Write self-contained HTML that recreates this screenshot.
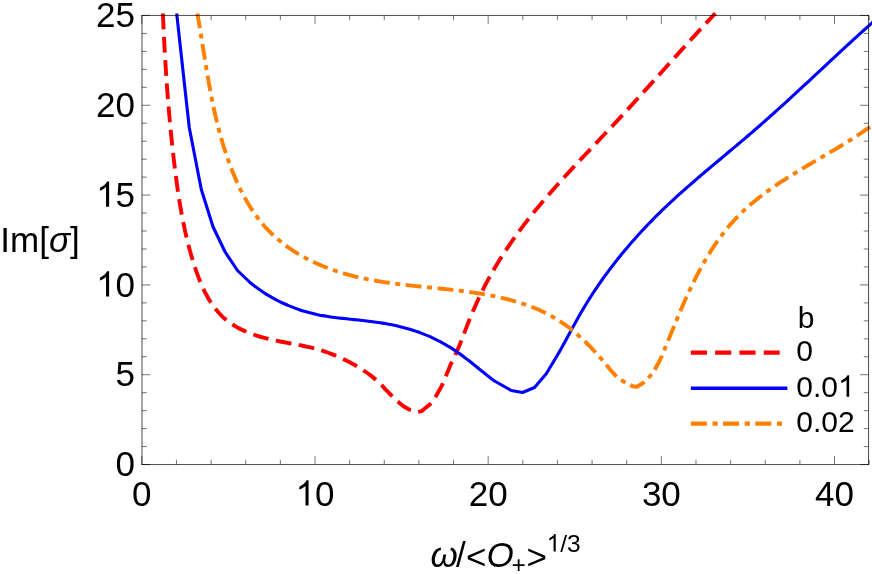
<!DOCTYPE html>
<html><head><meta charset="utf-8"><title>Im[σ] plot</title>
<style>html,body{margin:0;padding:0;background:#fff;}body{width:872px;height:574px;overflow:hidden;font-family:"Liberation Sans",sans-serif;}svg{display:block;position:absolute;left:0;top:0;will-change:transform;}</style>
</head><body>
<svg width="872" height="574" viewBox="0 0 872 574">
<rect width="872" height="574" fill="#fff"/>
<path d="M162.90,13.50 C162.93,14.17 163.01,16.17 163.07,17.51 C163.13,18.85 163.19,20.19 163.25,21.52 C163.31,22.86 163.37,24.20 163.43,25.54 C163.49,26.87 163.55,28.21 163.62,29.55 C163.68,30.89 163.74,32.22 163.81,33.56 C163.87,34.90 163.94,36.24 164.01,37.57 C164.08,38.91 164.14,40.25 164.21,41.59 C164.28,42.92 164.35,44.26 164.43,45.60 C164.50,46.93 164.57,48.27 164.64,49.61 C164.72,50.94 164.79,52.28 164.87,53.62 C164.95,54.96 165.02,56.29 165.10,57.63 C165.18,58.96 165.26,60.30 165.34,61.64 C165.42,62.97 165.50,64.31 165.59,65.65 C165.67,66.98 165.75,68.32 165.84,69.65 C165.93,70.99 166.01,72.33 166.10,73.66 C166.19,75.00 166.28,76.33 166.37,77.67 C166.46,79.00 166.55,80.34 166.65,81.67 C166.74,83.01 166.83,84.34 166.93,85.68 C167.03,87.01 167.12,88.35 167.22,89.68 C167.32,91.02 167.42,92.35 167.52,93.68 C167.63,95.02 167.73,96.35 167.83,97.69 C167.94,99.02 168.04,100.35 168.15,101.69 C168.26,103.02 168.37,104.35 168.48,105.68 C168.59,107.02 168.70,108.35 168.81,109.68 C168.92,111.01 169.04,112.35 169.16,113.68 C169.27,115.01 169.39,116.34 169.51,117.67 C169.63,119.00 169.75,120.33 169.87,121.66 C169.99,123.00 170.12,124.33 170.24,125.66 C170.37,126.99 170.49,128.32 170.62,129.65 C170.75,130.97 170.88,132.30 171.01,133.63 C171.15,134.96 171.28,136.29 171.41,137.62 C171.55,138.95 171.69,140.27 171.83,141.60 C171.96,142.93 172.10,144.26 172.25,145.58 C172.39,146.91 172.53,148.24 172.68,149.56 C172.82,150.89 172.97,152.22 173.12,153.54 C173.27,154.87 173.42,156.19 173.57,157.52 C173.72,158.84 173.88,160.17 174.04,161.49 C174.19,162.81 174.35,164.14 174.51,165.46 C174.67,166.79 174.83,168.11 174.99,169.43 C175.16,170.75 175.32,172.08 175.49,173.40 C175.66,174.72 175.83,176.04 176.00,177.36 C176.17,178.68 176.35,180.00 176.53,181.32 C176.70,182.64 176.88,183.96 177.07,185.28 C177.25,186.60 177.44,187.92 177.63,189.24 C177.82,190.55 178.01,191.87 178.21,193.19 C178.40,194.51 178.60,195.82 178.81,197.14 C179.01,198.46 179.22,199.77 179.43,201.09 C179.64,202.40 179.86,203.72 180.08,205.03 C180.30,206.35 180.52,207.66 180.75,208.97 C180.98,210.29 181.22,211.60 181.45,212.91 C181.69,214.22 181.94,215.54 182.18,216.85 C182.43,218.16 182.69,219.47 182.95,220.78 C183.21,222.09 183.47,223.40 183.74,224.71 C184.01,226.02 184.29,227.32 184.57,228.63 C184.85,229.94 185.14,231.25 185.43,232.55 C185.73,233.86 186.03,235.17 186.33,236.47 C186.64,237.78 186.95,239.08 187.27,240.39 C187.59,241.69 187.92,243.00 188.25,244.30 C188.58,245.60 188.93,246.90 189.27,248.21 C189.62,249.51 189.98,250.81 190.34,252.11 C190.70,253.41 191.07,254.71 191.45,256.01 C191.83,257.31 192.21,258.61 192.61,259.91 C193.00,261.20 193.40,262.50 193.81,263.80 C194.22,265.09 194.64,266.39 195.07,267.68 C195.50,268.98 195.93,270.27 196.38,271.55 C196.83,272.84 197.29,274.12 197.76,275.40 C198.23,276.67 198.72,277.95 199.21,279.21 C199.71,280.47 200.22,281.73 200.74,282.98 C201.27,284.22 201.80,285.46 202.36,286.69 C202.91,287.91 203.48,289.13 204.07,290.34 C204.65,291.54 205.26,292.73 205.88,293.91 C206.50,295.09 207.13,296.26 207.79,297.40 C208.45,298.55 209.12,299.69 209.82,300.80 C210.52,301.92 211.23,303.02 211.97,304.10 C212.71,305.18 213.47,306.25 214.25,307.29 C215.03,308.33 215.83,309.35 216.66,310.35 C217.49,311.35 218.34,312.33 219.22,313.29 C220.09,314.24 220.99,315.17 221.92,316.08 C222.85,316.98 223.80,317.87 224.78,318.72 C225.76,319.57 226.77,320.40 227.80,321.20 C228.84,322.00 229.90,322.77 230.99,323.52 C232.07,324.26 233.19,324.98 234.32,325.67 C235.46,326.37 236.62,327.03 237.79,327.68 C238.97,328.32 240.17,328.93 241.38,329.53 C242.60,330.12 243.83,330.69 245.07,331.24 C246.32,331.79 247.58,332.32 248.85,332.82 C250.12,333.33 251.40,333.81 252.69,334.27 C253.98,334.74 255.28,335.18 256.59,335.60 C257.89,336.03 259.20,336.43 260.52,336.82 C261.83,337.21 263.15,337.58 264.47,337.93 C265.79,338.28 267.11,338.62 268.42,338.94 C269.74,339.26 271.06,339.57 272.38,339.86 C273.70,340.16 275.02,340.44 276.33,340.71 C277.65,340.99 278.97,341.25 280.28,341.51 C281.60,341.77 282.92,342.02 284.23,342.27 C285.54,342.51 286.86,342.75 288.17,343.00 C289.48,343.24 290.79,343.48 292.10,343.72 C293.40,343.96 294.71,344.20 296.02,344.44 C297.32,344.69 298.62,344.94 299.92,345.19 C301.22,345.45 302.52,345.71 303.82,345.98 C305.11,346.25 306.40,346.53 307.69,346.82 C308.98,347.11 310.27,347.41 311.56,347.72 C312.84,348.04 314.12,348.37 315.40,348.71 C316.68,349.06 317.95,349.42 319.22,349.80 C320.49,350.17 321.76,350.57 323.03,350.98 C324.29,351.39 325.55,351.81 326.80,352.25 C328.06,352.69 329.31,353.15 330.56,353.62 C331.80,354.09 333.05,354.58 334.28,355.08 C335.52,355.59 336.75,356.10 337.98,356.64 C339.21,357.17 340.43,357.72 341.65,358.28 C342.87,358.84 344.08,359.42 345.29,360.02 C346.49,360.61 347.70,361.22 348.89,361.84 C350.09,362.46 351.28,363.10 352.46,363.75 C353.64,364.40 354.82,365.06 355.99,365.74 C357.16,366.42 358.33,367.12 359.48,367.83 C360.64,368.54 361.79,369.26 362.92,370.00 C364.06,370.74 365.18,371.50 366.29,372.27 C367.40,373.05 368.49,373.84 369.57,374.64 C370.64,375.45 371.70,376.28 372.74,377.13 C373.78,377.97 374.80,378.84 375.79,379.72 C376.79,380.61 377.76,381.52 378.72,382.43 C379.68,383.35 380.62,384.29 381.56,385.23 C382.49,386.17 383.41,387.12 384.33,388.08 C385.25,389.03 386.16,390.00 387.08,390.96 C387.99,391.92 388.90,392.88 389.83,393.84 C390.75,394.80 391.32,395.42 392.61,396.70 C393.91,397.97 395.85,399.95 397.60,401.50 L403.10,406.00 L409.50,409.70 L417.80,411.90 L421.50,411.20 L429.70,404.60 L436.10,396.00 L441.70,385.90 L447.20,373.00 C448.60,369.66 449.35,367.66 450.10,365.86 C450.86,364.06 451.18,363.40 451.74,362.18 C452.30,360.96 452.89,359.75 453.47,358.54 C454.05,357.32 454.65,356.12 455.23,354.90 C455.80,353.69 456.38,352.48 456.93,351.26 C457.48,350.05 458.01,348.83 458.53,347.61 C459.05,346.38 459.55,345.16 460.05,343.93 C460.55,342.70 461.03,341.47 461.51,340.24 C461.99,339.01 462.46,337.78 462.93,336.54 C463.40,335.31 463.87,334.07 464.34,332.83 C464.81,331.59 465.28,330.35 465.75,329.11 C466.23,327.87 466.70,326.63 467.19,325.39 C467.67,324.15 468.16,322.91 468.66,321.67 C469.15,320.43 469.66,319.19 470.16,317.95 C470.67,316.71 471.18,315.47 471.70,314.24 C472.22,313.00 472.75,311.76 473.28,310.53 C473.81,309.29 474.34,308.06 474.89,306.83 C475.43,305.59 475.98,304.36 476.53,303.14 C477.09,301.91 477.65,300.68 478.22,299.46 C478.79,298.24 479.36,297.02 479.94,295.80 C480.52,294.59 481.11,293.37 481.70,292.16 C482.29,290.95 482.89,289.75 483.50,288.55 C484.10,287.34 484.71,286.15 485.33,284.95 C485.95,283.76 486.57,282.57 487.21,281.39 C487.84,280.20 488.48,279.02 489.12,277.85 C489.76,276.67 490.41,275.50 491.07,274.33 C491.73,273.16 492.39,272.00 493.06,270.84 C493.73,269.68 494.40,268.52 495.08,267.37 C495.76,266.22 496.45,265.08 497.14,263.93 C497.83,262.79 498.53,261.65 499.23,260.51 C499.94,259.38 500.65,258.25 501.36,257.12 C502.08,255.99 502.80,254.87 503.52,253.75 C504.25,252.63 504.98,251.51 505.71,250.40 C506.45,249.29 507.19,248.18 507.94,247.08 C508.68,245.97 509.43,244.87 510.19,243.77 C510.95,242.68 511.71,241.58 512.47,240.49 C513.24,239.40 514.01,238.31 514.79,237.23 C515.56,236.15 516.34,235.07 517.13,233.99 C517.91,232.92 518.70,231.84 519.50,230.77 C520.29,229.70 521.09,228.64 521.89,227.57 C522.69,226.51 523.50,225.45 524.31,224.39 C525.12,223.34 525.94,222.28 526.76,221.23 C527.58,220.18 528.40,219.13 529.23,218.09 C530.05,217.04 530.88,216.00 531.72,214.96 C532.55,213.92 533.39,212.88 534.23,211.85 C535.07,210.82 535.92,209.78 536.77,208.75 C537.61,207.73 538.47,206.70 539.32,205.67 C540.17,204.65 541.03,203.63 541.89,202.61 C542.75,201.59 543.62,200.57 544.49,199.56 C545.35,198.54 546.22,197.53 547.10,196.52 C547.97,195.51 548.84,194.50 549.72,193.49 C550.60,192.49 551.48,191.48 552.36,190.48 C553.25,189.47 554.13,188.47 555.02,187.47 C555.91,186.47 556.80,185.48 557.69,184.48 C558.58,183.48 559.47,182.49 560.37,181.50 C561.27,180.50 562.16,179.51 563.06,178.52 C563.96,177.53 564.87,176.54 565.77,175.55 C566.67,174.57 567.58,173.58 568.49,172.60 C569.39,171.61 570.30,170.63 571.21,169.64 C572.12,168.66 573.03,167.68 573.94,166.70 C574.85,165.72 575.77,164.74 576.68,163.76 C577.60,162.78 578.51,161.80 579.43,160.82 C580.34,159.85 581.26,158.87 582.18,157.89 C583.10,156.92 584.02,155.94 584.93,154.97 C585.85,153.99 586.77,153.02 587.69,152.04 C588.61,151.07 589.54,150.09 590.46,149.12 C591.38,148.15 592.30,147.17 593.22,146.20 C594.14,145.23 595.06,144.25 595.99,143.28 C596.91,142.31 597.83,141.34 598.75,140.36 C599.67,139.39 600.59,138.42 601.51,137.44 C602.44,136.47 603.36,135.50 604.28,134.52 C605.20,133.55 606.12,132.58 607.04,131.60 C607.95,130.63 608.87,129.65 609.79,128.68 C610.71,127.70 611.63,126.73 612.54,125.75 C613.46,124.77 614.37,123.80 615.29,122.82 C616.20,121.84 617.11,120.86 618.03,119.88 C618.94,118.90 619.85,117.92 620.76,116.94 C621.67,115.96 622.58,114.98 623.48,114.00 C624.39,113.02 625.30,112.03 626.20,111.05 C627.11,110.07 628.01,109.08 628.92,108.10 C629.82,107.11 630.72,106.13 631.63,105.14 C632.53,104.16 633.43,103.17 634.33,102.18 C635.23,101.20 636.13,100.21 637.03,99.22 C637.93,98.23 638.83,97.24 639.73,96.26 C640.63,95.27 641.52,94.28 642.42,93.29 C643.32,92.30 644.21,91.31 645.11,90.32 C646.01,89.33 646.90,88.34 647.80,87.35 C648.69,86.36 649.59,85.37 650.48,84.38 C651.38,83.38 652.27,82.39 653.17,81.40 C654.06,80.41 654.95,79.42 655.85,78.43 C656.74,77.43 657.64,76.44 658.53,75.45 C659.42,74.46 660.32,73.47 661.21,72.47 C662.10,71.48 663.00,70.49 663.89,69.50 C664.79,68.51 665.68,67.51 666.57,66.52 C667.47,65.53 668.36,64.54 669.26,63.55 C670.15,62.56 671.04,61.56 671.94,60.57 C672.83,59.58 673.73,58.59 674.62,57.60 C675.52,56.61 676.42,55.62 677.31,54.63 C678.21,53.63 679.11,52.64 680.00,51.65 C680.90,50.66 681.80,49.67 682.70,48.68 C683.59,47.70 684.49,46.71 685.39,45.72 C686.29,44.73 687.19,43.74 688.09,42.75 C688.99,41.76 689.89,40.78 690.80,39.79 C691.70,38.80 692.60,37.82 693.51,36.83 C694.41,35.85 695.31,34.86 696.22,33.88 C697.13,32.89 698.03,31.91 698.94,30.92 C699.85,29.94 700.76,28.96 701.67,27.97 C702.58,26.99 703.49,26.01 704.40,25.03 C705.31,24.05 706.22,23.07 707.14,22.09 C708.05,21.11 708.97,20.13 709.88,19.16 C710.80,18.18 711.72,17.20 712.64,16.22 C713.56,15.25 714.94,13.79 715.40,13.30" fill="none" stroke="#ff0000" stroke-width="3.9" stroke-dasharray="15.8 7.5" stroke-linejoin="round"/>
<path d="M176.70,13.50 L180.70,50.00 L186.20,100.00 L189.25,127.50 L201.25,189.25 L213.00,226.75 L225.00,251.75 L237.50,270.50 L250.00,282.50 C254.29,286.13 260.48,290.30 263.25,292.28 C266.02,294.27 265.50,293.72 266.64,294.41 C267.77,295.11 268.92,295.79 270.07,296.45 C271.22,297.12 272.38,297.77 273.55,298.41 C274.72,299.04 275.90,299.67 277.09,300.28 C278.28,300.89 279.48,301.48 280.69,302.07 C281.89,302.65 283.11,303.22 284.33,303.77 C285.56,304.32 286.79,304.86 288.03,305.38 C289.27,305.91 290.51,306.42 291.76,306.91 C293.02,307.40 294.28,307.88 295.54,308.34 C296.80,308.81 298.08,309.25 299.35,309.68 C300.63,310.11 301.91,310.53 303.19,310.93 C304.48,311.33 305.77,311.71 307.06,312.07 C308.36,312.44 309.66,312.79 310.96,313.12 C312.26,313.45 313.56,313.77 314.87,314.06 C316.17,314.36 317.48,314.64 318.80,314.90 C320.11,315.17 321.42,315.42 322.74,315.65 C324.05,315.89 325.37,316.11 326.69,316.32 C328.01,316.53 329.33,316.73 330.65,316.92 C331.98,317.10 333.30,317.28 334.63,317.45 C335.95,317.62 337.28,317.78 338.61,317.94 C339.93,318.10 341.26,318.24 342.59,318.39 C343.92,318.54 345.25,318.68 346.58,318.82 C347.92,318.96 349.25,319.09 350.58,319.23 C351.91,319.37 353.24,319.50 354.57,319.64 C355.91,319.78 357.24,319.91 358.57,320.06 C359.90,320.20 361.23,320.34 362.56,320.49 C363.89,320.64 365.22,320.79 366.55,320.95 C367.88,321.11 369.21,321.27 370.54,321.44 C371.87,321.61 373.20,321.79 374.52,321.97 C375.85,322.15 377.17,322.34 378.49,322.54 C379.82,322.73 381.14,322.94 382.46,323.15 C383.78,323.36 385.10,323.59 386.41,323.82 C387.73,324.05 389.04,324.29 390.35,324.54 C391.66,324.80 392.97,325.06 394.28,325.33 C395.59,325.61 396.89,325.89 398.19,326.19 C399.49,326.49 400.79,326.80 402.09,327.13 C403.38,327.45 404.68,327.79 405.97,328.14 C407.26,328.49 408.54,328.86 409.83,329.24 C411.11,329.63 412.39,330.02 413.66,330.44 C414.94,330.85 416.21,331.28 417.48,331.73 C418.75,332.17 420.01,332.64 421.27,333.11 C422.52,333.59 423.78,334.09 425.03,334.60 C426.27,335.11 427.52,335.63 428.75,336.18 C429.99,336.72 431.22,337.27 432.44,337.84 C433.67,338.41 434.88,339.00 436.09,339.60 C437.30,340.20 438.50,340.81 439.70,341.44 C440.89,342.06 442.08,342.70 443.25,343.36 C444.43,344.01 445.60,344.68 446.76,345.36 C447.92,346.04 449.07,346.74 450.21,347.44 C451.35,348.15 452.48,348.87 453.59,349.60 C454.71,350.33 455.82,351.07 456.92,351.82 C458.02,352.58 459.10,353.34 460.18,354.12 C461.26,354.89 462.32,355.68 463.38,356.48 C464.44,357.27 465.49,358.07 466.54,358.88 C467.58,359.69 468.62,360.51 469.66,361.33 C470.69,362.15 471.72,362.98 472.75,363.80 C473.78,364.63 474.81,365.47 475.84,366.30 C476.86,367.13 477.89,367.97 478.92,368.80 C479.94,369.64 480.97,370.47 482.01,371.30 C483.04,372.14 484.07,372.97 485.12,373.79 C486.16,374.62 487.21,375.44 488.26,376.26 C489.31,377.08 490.37,377.89 491.45,378.69 C492.52,379.50 494.09,380.66 494.69,381.08 C495.28,381.51 492.24,379.68 495.00,381.25 L511.25,390.50 L522.50,392.50 L534.50,387.50 L546.25,373.75 L557.50,355.00 C559.79,351.16 559.26,352.03 560.00,350.73 C560.74,349.44 561.30,348.40 561.95,347.23 C562.59,346.07 563.23,344.90 563.87,343.73 C564.51,342.56 565.15,341.39 565.78,340.22 C566.42,339.05 567.05,337.88 567.69,336.71 C568.32,335.54 568.95,334.37 569.59,333.21 C570.22,332.04 570.86,330.87 571.49,329.70 C572.13,328.53 572.76,327.37 573.40,326.20 C574.04,325.04 574.68,323.87 575.32,322.71 C575.96,321.55 576.61,320.38 577.26,319.23 C577.91,318.07 578.56,316.91 579.22,315.75 C579.88,314.60 580.54,313.44 581.21,312.29 C581.88,311.14 582.55,310.00 583.23,308.85 C583.91,307.71 584.60,306.56 585.29,305.42 C585.98,304.28 586.68,303.15 587.38,302.01 C588.08,300.88 588.79,299.75 589.50,298.62 C590.22,297.49 590.94,296.37 591.66,295.25 C592.39,294.12 593.12,293.00 593.86,291.89 C594.59,290.77 595.34,289.66 596.08,288.55 C596.83,287.44 597.58,286.33 598.34,285.23 C599.10,284.12 599.86,283.02 600.63,281.92 C601.40,280.82 602.17,279.73 602.95,278.64 C603.73,277.55 604.52,276.46 605.31,275.37 C606.09,274.29 606.89,273.21 607.69,272.13 C608.49,271.05 609.29,269.97 610.10,268.90 C610.91,267.83 611.72,266.76 612.54,265.69 C613.36,264.63 614.18,263.56 615.01,262.50 C615.83,261.45 616.67,260.39 617.50,259.34 C618.34,258.29 619.18,257.24 620.03,256.19 C620.87,255.15 621.72,254.10 622.58,253.07 C623.43,252.03 624.29,250.99 625.15,249.96 C626.02,248.93 626.89,247.90 627.76,246.88 C628.63,245.85 629.50,244.83 630.38,243.82 C631.26,242.80 632.15,241.79 633.04,240.78 C633.92,239.77 634.82,238.76 635.71,237.76 C636.61,236.75 637.51,235.76 638.41,234.76 C639.32,233.77 640.22,232.78 641.13,231.79 C642.05,230.80 642.96,229.82 643.88,228.84 C644.80,227.86 645.72,226.88 646.65,225.91 C647.57,224.94 648.50,223.97 649.43,223.01 C650.37,222.04 651.30,221.08 652.24,220.13 C653.18,219.17 654.12,218.22 655.07,217.27 C656.02,216.32 656.96,215.38 657.92,214.44 C658.87,213.50 659.82,212.56 660.78,211.63 C661.74,210.69 662.70,209.77 663.67,208.84 C664.63,207.91 665.60,206.99 666.57,206.07 C667.54,205.15 668.51,204.24 669.49,203.33 C670.46,202.42 671.44,201.51 672.42,200.60 C673.40,199.69 674.38,198.79 675.37,197.89 C676.35,196.99 677.34,196.09 678.33,195.20 C679.32,194.30 680.31,193.41 681.31,192.52 C682.30,191.63 683.29,190.75 684.29,189.86 C685.29,188.98 686.29,188.09 687.29,187.21 C688.29,186.33 689.29,185.46 690.30,184.58 C691.30,183.70 692.31,182.83 693.32,181.96 C694.32,181.08 695.33,180.21 696.34,179.34 C697.35,178.47 698.37,177.60 699.38,176.74 C700.39,175.87 701.41,175.01 702.42,174.14 C703.44,173.28 704.45,172.42 705.47,171.55 C706.49,170.69 707.50,169.83 708.52,168.97 C709.54,168.11 710.56,167.25 711.58,166.40 C712.60,165.54 713.62,164.68 714.64,163.82 C715.67,162.97 716.69,162.11 717.71,161.25 C718.73,160.40 719.75,159.54 720.78,158.69 C721.80,157.83 722.82,156.97 723.85,156.12 C724.87,155.26 725.89,154.41 726.92,153.55 C727.94,152.70 728.96,151.84 729.98,150.98 C731.01,150.13 732.03,149.27 733.05,148.41 C734.07,147.55 735.10,146.70 736.12,145.84 C737.14,144.98 738.16,144.12 739.18,143.26 C740.20,142.40 741.22,141.54 742.24,140.67 C743.26,139.81 744.28,138.95 745.29,138.08 C746.31,137.22 747.33,136.35 748.34,135.49 C749.36,134.62 750.37,133.75 751.39,132.88 C752.40,132.01 753.41,131.13 754.42,130.26 C755.43,129.39 756.44,128.51 757.45,127.63 C758.46,126.76 759.47,125.88 760.47,124.99 C761.48,124.11 762.48,123.23 763.49,122.35 C764.49,121.46 765.49,120.58 766.49,119.69 C767.49,118.80 768.49,117.91 769.49,117.02 C770.49,116.13 771.49,115.24 772.49,114.35 C773.48,113.45 774.48,112.56 775.47,111.66 C776.47,110.77 777.46,109.87 778.46,108.97 C779.45,108.07 780.44,107.18 781.43,106.27 C782.43,105.37 783.42,104.47 784.41,103.57 C785.40,102.67 786.39,101.77 787.37,100.86 C788.36,99.96 789.35,99.05 790.34,98.15 C791.33,97.24 792.31,96.33 793.30,95.43 C794.28,94.52 795.27,93.61 796.25,92.70 C797.24,91.79 798.22,90.88 799.21,89.97 C800.19,89.06 801.17,88.15 802.16,87.24 C803.14,86.33 804.12,85.42 805.11,84.51 C806.09,83.59 807.07,82.68 808.05,81.77 C809.03,80.86 810.01,79.94 811.00,79.03 C811.98,78.12 812.96,77.20 813.94,76.29 C814.92,75.38 815.90,74.46 816.88,73.55 C817.86,72.64 818.84,71.72 819.82,70.81 C820.80,69.89 821.78,68.98 822.76,68.07 C823.74,67.15 824.72,66.24 825.70,65.33 C826.68,64.41 827.66,63.50 828.64,62.59 C829.62,61.68 830.60,60.76 831.58,59.85 C832.56,58.94 833.54,58.03 834.52,57.12 C835.50,56.20 836.48,55.29 837.47,54.38 C838.45,53.47 839.43,52.56 840.41,51.66 C841.39,50.75 842.37,49.84 843.36,48.93 C844.34,48.02 845.32,47.12 846.30,46.21 C847.29,45.30 848.27,44.40 849.26,43.49 C850.24,42.59 851.22,41.69 852.21,40.78 C853.20,39.88 854.18,38.98 855.17,38.08 C856.15,37.18 857.14,36.28 858.13,35.38 C859.12,34.48 860.10,33.58 861.09,32.69 C862.08,31.79 863.07,30.90 864.06,30.00 C865.05,29.11 866.04,28.22 867.04,27.33 C868.03,26.44 869.02,25.55 870.02,24.66 C871.01,23.77 872.50,22.44 873.00,22.00" fill="none" stroke="#0000ff" stroke-width="3.1" stroke-linejoin="round"/>
<path d="M197.40,13.50 C197.52,14.17 197.87,16.19 198.10,17.54 C198.33,18.88 198.56,20.22 198.78,21.56 C199.01,22.90 199.23,24.24 199.45,25.58 C199.67,26.92 199.89,28.25 200.11,29.59 C200.33,30.92 200.55,32.26 200.76,33.59 C200.98,34.92 201.19,36.25 201.40,37.58 C201.62,38.91 201.83,40.24 202.04,41.56 C202.25,42.89 202.46,44.21 202.67,45.54 C202.88,46.86 203.09,48.18 203.30,49.50 C203.51,50.82 203.72,52.14 203.93,53.46 C204.15,54.78 204.36,56.10 204.57,57.41 C204.78,58.73 204.99,60.04 205.20,61.36 C205.41,62.67 205.63,63.98 205.84,65.29 C206.06,66.60 206.27,67.91 206.49,69.22 C206.71,70.53 206.93,71.84 207.15,73.14 C207.37,74.45 207.59,75.75 207.81,77.06 C208.04,78.36 208.26,79.67 208.49,80.97 C208.72,82.27 208.95,83.57 209.19,84.87 C209.42,86.17 209.66,87.47 209.90,88.77 C210.13,90.06 210.38,91.36 210.62,92.66 C210.87,93.95 211.12,95.25 211.37,96.54 C211.62,97.84 211.88,99.13 212.14,100.42 C212.40,101.71 212.66,103.01 212.93,104.30 C213.20,105.59 213.47,106.88 213.75,108.16 C214.02,109.45 214.31,110.74 214.59,112.03 C214.88,113.32 215.17,114.60 215.46,115.89 C215.76,117.17 216.06,118.46 216.37,119.74 C216.67,121.03 216.99,122.31 217.30,123.59 C217.62,124.88 217.94,126.16 218.27,127.44 C218.60,128.72 218.94,130.00 219.28,131.28 C219.62,132.56 219.97,133.84 220.32,135.12 C220.68,136.40 221.04,137.67 221.41,138.95 C221.77,140.23 222.15,141.51 222.53,142.78 C222.91,144.06 223.30,145.34 223.70,146.61 C224.10,147.89 224.50,149.16 224.91,150.44 C225.32,151.71 225.74,152.98 226.17,154.26 C226.60,155.53 227.04,156.80 227.48,158.08 C227.93,159.35 228.38,160.62 228.84,161.89 C229.30,163.16 229.77,164.44 230.25,165.71 C230.73,166.98 231.22,168.25 231.72,169.51 C232.22,170.78 232.72,172.05 233.24,173.31 C233.76,174.57 234.29,175.83 234.82,177.09 C235.36,178.35 235.90,179.60 236.46,180.85 C237.02,182.10 237.59,183.35 238.16,184.59 C238.74,185.83 239.33,187.06 239.93,188.29 C240.53,189.52 241.14,190.75 241.76,191.96 C242.38,193.18 243.01,194.39 243.65,195.59 C244.30,196.80 244.95,197.99 245.62,199.18 C246.28,200.36 246.96,201.54 247.65,202.71 C248.34,203.88 249.05,205.04 249.76,206.19 C250.48,207.34 251.20,208.49 251.94,209.62 C252.68,210.75 253.44,211.86 254.20,212.97 C254.97,214.08 255.75,215.18 256.54,216.26 C257.33,217.34 258.13,218.42 258.95,219.47 C259.77,220.53 260.60,221.58 261.45,222.61 C262.30,223.64 263.16,224.66 264.03,225.66 C264.91,226.66 265.79,227.65 266.70,228.62 C267.60,229.59 268.52,230.55 269.45,231.49 C270.38,232.44 271.32,233.36 272.28,234.27 C273.23,235.19 274.20,236.09 275.19,236.97 C276.17,237.85 277.16,238.72 278.17,239.57 C279.18,240.43 280.20,241.27 281.23,242.09 C282.26,242.92 283.30,243.73 284.35,244.53 C285.40,245.33 286.47,246.11 287.54,246.88 C288.61,247.65 289.70,248.40 290.79,249.14 C291.89,249.88 292.99,250.61 294.11,251.33 C295.22,252.04 296.34,252.74 297.48,253.43 C298.61,254.12 299.75,254.79 300.90,255.45 C302.05,256.11 303.21,256.76 304.37,257.39 C305.54,258.03 306.71,258.65 307.89,259.25 C309.07,259.86 310.26,260.46 311.46,261.04 C312.65,261.62 313.85,262.19 315.06,262.75 C316.27,263.31 317.48,263.85 318.70,264.38 C319.92,264.92 321.15,265.44 322.38,265.94 C323.61,266.45 324.85,266.95 326.09,267.43 C327.33,267.91 328.58,268.38 329.83,268.84 C331.08,269.30 332.33,269.75 333.59,270.19 C334.85,270.62 336.11,271.04 337.38,271.46 C338.64,271.87 339.91,272.27 341.18,272.66 C342.45,273.05 343.73,273.43 345.00,273.79 C346.28,274.16 347.56,274.52 348.84,274.86 C350.12,275.21 351.41,275.55 352.69,275.87 C353.98,276.20 355.27,276.51 356.56,276.82 C357.85,277.13 359.15,277.43 360.44,277.72 C361.74,278.00 363.04,278.28 364.34,278.56 C365.64,278.83 366.94,279.09 368.25,279.35 C369.55,279.60 370.86,279.85 372.17,280.09 C373.48,280.33 374.79,280.57 376.10,280.79 C377.41,281.02 378.73,281.24 380.04,281.46 C381.36,281.67 382.68,281.88 384.00,282.08 C385.32,282.28 386.64,282.48 387.96,282.67 C389.28,282.86 390.60,283.04 391.93,283.22 C393.25,283.41 394.58,283.58 395.91,283.75 C397.24,283.93 398.57,284.09 399.90,284.26 C401.23,284.42 402.56,284.58 403.89,284.74 C405.22,284.89 406.55,285.05 407.89,285.20 C409.22,285.35 410.56,285.50 411.89,285.64 C413.23,285.79 414.56,285.93 415.90,286.08 C417.24,286.22 418.58,286.36 419.91,286.50 C421.25,286.64 422.59,286.77 423.93,286.91 C425.27,287.05 426.61,287.18 427.95,287.32 C429.29,287.46 430.63,287.59 431.97,287.73 C433.31,287.86 434.65,288.00 435.99,288.14 C437.33,288.28 438.67,288.41 440.01,288.55 C441.36,288.69 442.70,288.83 444.04,288.98 C445.38,289.12 446.72,289.26 448.06,289.41 C449.40,289.56 450.74,289.70 452.08,289.86 C453.42,290.01 454.76,290.16 456.10,290.32 C457.44,290.48 458.77,290.64 460.11,290.80 C461.45,290.97 462.79,291.14 464.12,291.31 C465.46,291.48 466.80,291.66 468.13,291.84 C469.47,292.03 470.80,292.21 472.13,292.40 C473.47,292.60 474.80,292.79 476.13,293.00 C477.46,293.20 478.78,293.41 480.11,293.63 C481.44,293.84 482.76,294.06 484.08,294.29 C485.41,294.52 486.73,294.76 488.04,295.00 C489.36,295.24 490.68,295.49 491.99,295.75 C493.30,296.01 494.61,296.28 495.92,296.55 C497.23,296.82 498.53,297.11 499.83,297.40 C501.13,297.69 502.43,297.99 503.72,298.30 C505.01,298.61 506.30,298.93 507.59,299.26 C508.87,299.59 510.16,299.93 511.43,300.27 C512.71,300.62 513.98,300.98 515.25,301.35 C516.52,301.72 517.78,302.10 519.04,302.50 C520.30,302.89 521.55,303.29 522.80,303.71 C524.05,304.13 525.30,304.55 526.53,304.99 C527.77,305.43 529.00,305.89 530.23,306.35 C531.46,306.82 532.68,307.29 533.89,307.79 C535.11,308.28 536.32,308.78 537.52,309.30 C538.72,309.82 539.92,310.35 541.11,310.90 C542.30,311.45 543.48,312.01 544.66,312.58 C545.83,313.16 547.00,313.75 548.16,314.36 C549.32,314.97 550.48,315.59 551.62,316.23 C552.77,316.86 553.91,317.52 555.04,318.19 C556.17,318.86 557.29,319.54 558.41,320.25 C559.52,320.95 560.63,321.67 561.72,322.41 C562.82,323.15 563.91,323.90 564.99,324.68 C566.07,325.45 567.15,326.24 568.21,327.04 C569.27,327.84 570.33,328.67 571.38,329.50 C572.42,330.33 573.46,331.18 574.50,332.05 C575.53,332.91 576.55,333.79 577.57,334.68 C578.58,335.57 579.59,336.47 580.59,337.38 C581.59,338.30 582.58,339.22 583.56,340.16 C584.55,341.09 585.52,342.04 586.49,343.00 C587.46,343.95 588.42,344.92 589.38,345.90 C590.33,346.87 591.28,347.85 592.22,348.85 C593.16,349.84 594.09,350.84 595.02,351.84 C595.94,352.85 596.86,353.86 597.77,354.88 C598.68,355.90 599.59,356.92 600.48,357.95 C601.38,358.98 602.27,360.01 603.16,361.05 C604.04,362.08 604.92,363.12 605.79,364.17 C606.66,365.21 607.52,366.26 608.38,367.30 C609.25,368.35 610.10,369.40 610.97,370.43 C611.84,371.45 612.10,371.96 613.61,373.47 C615.11,374.98 616.85,377.37 620.00,379.50 L632.50,386.25 L637.00,386.75 L643.75,382.50 L652.50,373.75 L660.00,360.00 C661.81,356.39 662.53,354.01 663.35,352.07 C664.17,350.13 664.39,349.60 664.91,348.37 C665.43,347.14 665.94,345.90 666.45,344.67 C666.97,343.44 667.48,342.21 667.98,340.97 C668.49,339.74 669.00,338.51 669.50,337.28 C670.01,336.04 670.51,334.81 671.02,333.58 C671.52,332.35 672.03,331.12 672.53,329.88 C673.03,328.65 673.54,327.42 674.04,326.19 C674.55,324.96 675.06,323.73 675.56,322.49 C676.07,321.26 676.58,320.03 677.10,318.80 C677.61,317.57 678.12,316.33 678.64,315.10 C679.16,313.87 679.68,312.64 680.20,311.41 C680.73,310.18 681.25,308.94 681.78,307.71 C682.32,306.48 682.85,305.25 683.39,304.02 C683.93,302.79 684.47,301.56 685.02,300.33 C685.57,299.10 686.12,297.87 686.67,296.65 C687.23,295.42 687.79,294.20 688.36,292.97 C688.92,291.75 689.49,290.53 690.07,289.31 C690.64,288.09 691.22,286.88 691.81,285.66 C692.39,284.45 692.99,283.24 693.58,282.03 C694.18,280.82 694.78,279.62 695.39,278.42 C696.00,277.22 696.61,276.02 697.23,274.82 C697.85,273.63 698.48,272.44 699.11,271.25 C699.74,270.06 700.38,268.88 701.02,267.70 C701.67,266.53 702.32,265.35 702.98,264.18 C703.64,263.02 704.30,261.85 704.98,260.69 C705.65,259.53 706.33,258.38 707.02,257.23 C707.70,256.08 708.40,254.94 709.10,253.81 C709.80,252.67 710.51,251.54 711.23,250.42 C711.94,249.29 712.67,248.17 713.40,247.06 C714.14,245.95 714.88,244.85 715.63,243.75 C716.38,242.65 717.14,241.56 717.90,240.48 C718.67,239.40 719.45,238.32 720.23,237.26 C721.02,236.19 721.81,235.13 722.61,234.08 C723.41,233.03 724.23,231.98 725.05,230.95 C725.87,229.91 726.70,228.89 727.54,227.87 C728.38,226.85 729.23,225.85 730.09,224.85 C730.95,223.85 731.82,222.86 732.70,221.88 C733.58,220.90 734.47,219.93 735.37,218.97 C736.27,218.01 737.18,217.06 738.10,216.12 C739.02,215.18 739.95,214.25 740.90,213.33 C741.84,212.41 742.79,211.50 743.75,210.60 C744.71,209.70 745.68,208.81 746.66,207.92 C747.64,207.04 748.63,206.17 749.63,205.30 C750.62,204.44 751.63,203.58 752.64,202.73 C753.66,201.88 754.68,201.04 755.71,200.21 C756.74,199.37 757.78,198.55 758.82,197.73 C759.87,196.91 760.92,196.10 761.98,195.30 C763.04,194.49 764.11,193.69 765.18,192.90 C766.25,192.11 767.33,191.33 768.42,190.55 C769.50,189.77 770.59,189.00 771.69,188.23 C772.79,187.47 773.89,186.71 775.00,185.95 C776.10,185.20 777.22,184.45 778.33,183.70 C779.45,182.96 780.57,182.22 781.70,181.48 C782.82,180.75 783.96,180.02 785.09,179.29 C786.22,178.56 787.36,177.84 788.50,177.12 C789.65,176.40 790.79,175.69 791.94,174.98 C793.09,174.26 794.24,173.56 795.39,172.85 C796.55,172.15 797.70,171.44 798.86,170.74 C800.02,170.04 801.18,169.35 802.34,168.65 C803.50,167.96 804.67,167.26 805.83,166.57 C807.00,165.88 808.16,165.19 809.33,164.50 C810.50,163.81 811.66,163.13 812.83,162.44 C814.00,161.76 815.17,161.07 816.34,160.39 C817.51,159.70 818.67,159.02 819.84,158.34 C821.01,157.65 822.18,156.97 823.34,156.29 C824.51,155.60 825.68,154.92 826.84,154.24 C828.00,153.55 829.17,152.87 830.33,152.18 C831.49,151.50 832.65,150.81 833.81,150.12 C834.96,149.43 836.12,148.75 837.27,148.05 C838.42,147.36 839.57,146.67 840.72,145.98 C841.86,145.28 843.01,144.58 844.15,143.88 C845.29,143.18 846.42,142.48 847.55,141.78 C848.69,141.07 849.82,140.36 850.94,139.65 C852.06,138.94 853.18,138.23 854.30,137.51 C855.41,136.79 856.52,136.07 857.63,135.34 C858.73,134.61 859.83,133.88 860.92,133.15 C862.02,132.41 863.10,131.67 864.19,130.93 C865.27,130.18 866.34,129.43 867.41,128.68 C868.48,127.92 870.07,126.78 870.60,126.40" fill="none" stroke="#ff8000" stroke-width="3.9" stroke-dasharray="15.8 5.59 4.98 5.59" stroke-dashoffset="1" stroke-linejoin="round"/>
<g stroke="#000" stroke-width="0.7" fill="none">
<line x1="142.0" y1="14.95" x2="142.0" y2="465.05"/>
<line x1="868.55" y1="14.95" x2="868.55" y2="465.05"/>
<line x1="141.5" y1="15.45" x2="869.05" y2="15.45"/>
<line x1="141.5" y1="464.55" x2="869.05" y2="464.55"/>
<path d="M141.83,464.55 v-8.4 M141.83,15.45 v8.4 M176.46,464.55 v-4.8 M176.46,15.45 v4.8 M211.10,464.55 v-4.8 M211.10,15.45 v4.8 M245.73,464.55 v-4.8 M245.73,15.45 v4.8 M280.37,464.55 v-4.8 M280.37,15.45 v4.8 M315.00,464.55 v-8.4 M315.00,15.45 v8.4 M349.63,464.55 v-4.8 M349.63,15.45 v4.8 M384.27,464.55 v-4.8 M384.27,15.45 v4.8 M418.90,464.55 v-4.8 M418.90,15.45 v4.8 M453.54,464.55 v-4.8 M453.54,15.45 v4.8 M488.17,464.55 v-8.4 M488.17,15.45 v8.4 M522.80,464.55 v-4.8 M522.80,15.45 v4.8 M557.44,464.55 v-4.8 M557.44,15.45 v4.8 M592.07,464.55 v-4.8 M592.07,15.45 v4.8 M626.71,464.55 v-4.8 M626.71,15.45 v4.8 M661.34,464.55 v-8.4 M661.34,15.45 v8.4 M695.97,464.55 v-4.8 M695.97,15.45 v4.8 M730.61,464.55 v-4.8 M730.61,15.45 v4.8 M765.24,464.55 v-4.8 M765.24,15.45 v4.8 M799.88,464.55 v-4.8 M799.88,15.45 v4.8 M834.51,464.55 v-8.4 M834.51,15.45 v8.4 M869.14,464.55 v-4.8 M869.14,15.45 v4.8 M142.0,464.55 h8.4 M868.55,464.55 h-8.4 M142.0,446.59 h4.8 M868.55,446.59 h-4.8 M142.0,428.62 h4.8 M868.55,428.62 h-4.8 M142.0,410.66 h4.8 M868.55,410.66 h-4.8 M142.0,392.69 h4.8 M868.55,392.69 h-4.8 M142.0,374.73 h8.4 M868.55,374.73 h-8.4 M142.0,356.77 h4.8 M868.55,356.77 h-4.8 M142.0,338.80 h4.8 M868.55,338.80 h-4.8 M142.0,320.84 h4.8 M868.55,320.84 h-4.8 M142.0,302.87 h4.8 M868.55,302.87 h-4.8 M142.0,284.91 h8.4 M868.55,284.91 h-8.4 M142.0,266.95 h4.8 M868.55,266.95 h-4.8 M142.0,248.98 h4.8 M868.55,248.98 h-4.8 M142.0,231.02 h4.8 M868.55,231.02 h-4.8 M142.0,213.05 h4.8 M868.55,213.05 h-4.8 M142.0,195.09 h8.4 M868.55,195.09 h-8.4 M142.0,177.13 h4.8 M868.55,177.13 h-4.8 M142.0,159.16 h4.8 M868.55,159.16 h-4.8 M142.0,141.20 h4.8 M868.55,141.20 h-4.8 M142.0,123.23 h4.8 M868.55,123.23 h-4.8 M142.0,105.27 h8.4 M868.55,105.27 h-8.4 M142.0,87.31 h4.8 M868.55,87.31 h-4.8 M142.0,69.34 h4.8 M868.55,69.34 h-4.8 M142.0,51.38 h4.8 M868.55,51.38 h-4.8 M142.0,33.41 h4.8 M868.55,33.41 h-4.8 M142.0,15.45 h8.4 M868.55,15.45 h-8.4" stroke-width="0.55"/>
</g>
<g font-family="Liberation Sans, sans-serif" font-size="35" fill="#000">
<text x="115.54" y="476.15" font-size="35">0</text>
<text x="115.54" y="386.33" font-size="35">5</text>
<path transform="translate(96.08,296.51) scale(0.01709,-0.01709)" d="M763 0H583V1147Q518 1085 412.5 1023T223 930V1104Q374 1175 487 1276T647 1472H763Z" fill="#000"/><text x="115.54" y="296.51" font-size="35">0</text>
<path transform="translate(96.08,206.69) scale(0.01709,-0.01709)" d="M763 0H583V1147Q518 1085 412.5 1023T223 930V1104Q374 1175 487 1276T647 1472H763Z" fill="#000"/><text x="115.54" y="206.69" font-size="35">5</text>
<text x="96.08" y="116.87" font-size="35">20</text>
<text x="96.08" y="27.05" font-size="35">25</text>
<text x="132.10" y="505.50" font-size="35">0</text>
<path transform="translate(295.54,505.50) scale(0.01709,-0.01709)" d="M763 0H583V1147Q518 1085 412.5 1023T223 930V1104Q374 1175 487 1276T647 1472H763Z" fill="#000"/><text x="315.00" y="505.50" font-size="35">0</text>
<text x="468.71" y="505.50" font-size="35">20</text>
<text x="641.88" y="505.50" font-size="35">30</text>
<text x="815.05" y="505.50" font-size="35">40</text>
<text x="0.3" y="251.5">Im[<tspan font-style="italic">σ</tspan>]</text>
<text x="430.5" y="566.9" font-style="italic">ω</text>
<text x="456.0" y="566.9">/</text>
<text x="466.0" y="568.9">&lt;</text>
<text x="486.5" y="566.9" font-style="italic">O</text>
<text x="511.5" y="573.0" font-size="24.5">+</text>
<text x="526.5" y="568.9">&gt;</text>
<path transform="translate(546.60,551.50) scale(0.01196,-0.01196)" d="M763 0H583V1147Q518 1085 412.5 1023T223 930V1104Q374 1175 487 1276T647 1472H763Z" fill="#000"/><text x="560.22" y="551.50" font-size="24.5">/3</text>
</g>
<g font-family="Liberation Sans, sans-serif" font-size="30" fill="#000">
<text x="797.8" y="328">b</text>
<text x="796.3" y="361.2">0</text>
<text x="796.30" y="396.70" font-size="30">0.0</text><path transform="translate(838.00,396.70) scale(0.01465,-0.01465)" d="M763 0H583V1147Q518 1085 412.5 1023T223 930V1104Q374 1175 487 1276T647 1472H763Z" fill="#000"/>
<text x="796.3" y="432">0.02</text>
</g>
<line x1="690.85" y1="352.6" x2="779.7" y2="352.6" stroke="#ff0000" stroke-width="4.3" stroke-dasharray="16.1 8.2"/>
<line x1="690.85" y1="388.2" x2="787.4" y2="388.2" stroke="#0000ff" stroke-width="3.6"/>
<line x1="690.85" y1="423.7" x2="782" y2="423.7" stroke="#ff8000" stroke-width="4.3" stroke-dasharray="16 5.7 5.1 5.4"/>
</svg>
</body></html>
